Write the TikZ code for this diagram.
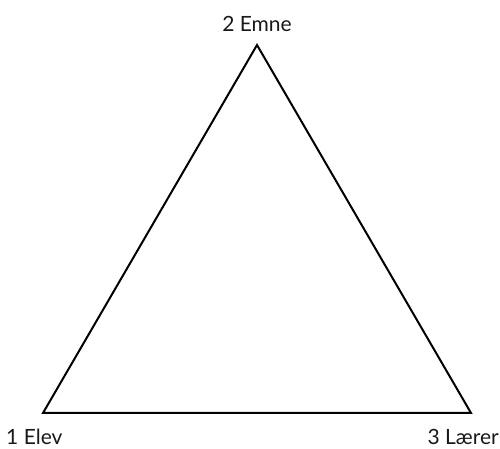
\documentclass[tikz,border=0pt]{standalone}
\usepackage{fontspec}
\setmainfont{Lato}
\begin{document}
\begin{tikzpicture}[x=1pt,y=1pt,
  lbl/.style={inner sep=0pt,font=\fontsize{21}{24}\selectfont,text=black!90},
  edge/.style={line width=2pt,line join=miter}]
\useasboundingbox (0,0) rectangle (500,449);
\coordinate (A) at (257,404);
\coordinate (B) at (43,36);
\coordinate (C) at (471,36);
\draw[edge] (A) -- (B) -- (C) -- cycle;
\node[lbl,anchor=base] (la) at (257,417) {2 Emne};
\node[lbl,anchor=base west] (lb) at (6,4) {1 Elev};
\node[lbl,anchor=base east] (lc) at (499,4) {3 Lærer};
\end{tikzpicture}
\end{document}
